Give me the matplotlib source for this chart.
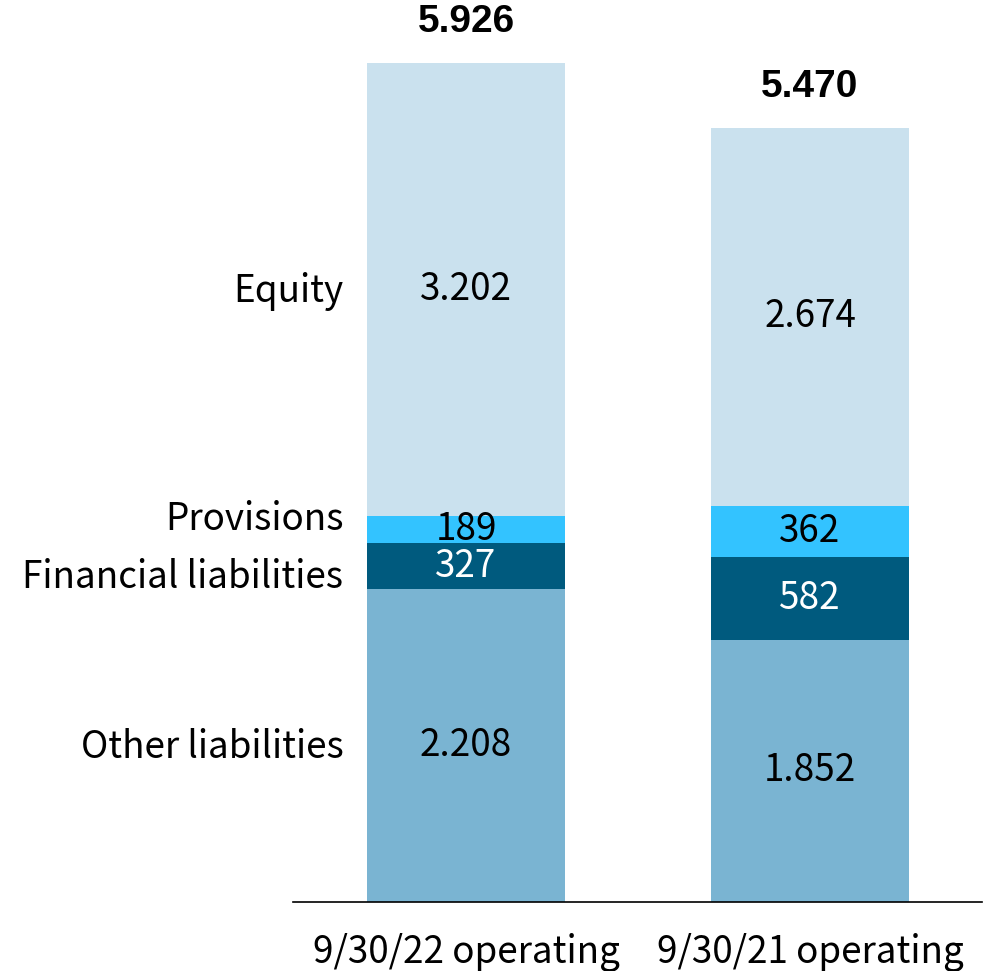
import matplotlib
matplotlib.use("Agg")
import matplotlib.pyplot as plt

categories = ["9/30/22 operating", "9/30/21 operating"]
series_names = ["Other liabilities", "Financial liabilities", "Provisions", "Equity"]
other = [2208, 1852]
financial = [327, 582]
provisions = [189, 362]
equity = [3202, 2674]
totals = ["5.926", "5.470"]
value_labels = {
    "Other liabilities": ["2.208", "1.852"],
    "Financial liabilities": ["327", "582"],
    "Provisions": ["189", "362"],
    "Equity": ["3.202", "2.674"],
}
colors = {
    "Other liabilities": "#7AB4D2",
    "Financial liabilities": "#005A7E",
    "Provisions": "#33C3FF",
    "Equity": "#CAE1EE",
}
text_colors = {
    "Other liabilities": "black",
    "Financial liabilities": "white",
    "Provisions": "black",
    "Equity": "black",
}
label_offsets = {  # offsets in points for the side labels
    "Other liabilities": -1,
    "Financial liabilities": -8,
    "Provisions": 7,
    "Equity": -1,
}

font = ["Noto Sans CJK JP", "DejaVu Sans"]
fs = 26.5

fig = plt.figure(figsize=(9.94, 9.71), dpi=100)
ax = fig.add_axes([293/994, 69/971, 689/994, 902/971])

x = [0, 1]
width = 0.5756
data = {"Other liabilities": other, "Financial liabilities": financial,
        "Provisions": provisions, "Equity": equity}
bottoms = [0, 0]
for name in series_names:
    vals = data[name]
    ax.bar(x, vals, width=width, bottom=bottoms, color=colors[name], linewidth=0)
    for i in range(2):
        ax.text(x[i], bottoms[i] + vals[i] / 2, value_labels[name][i],
                ha="center", va="center", fontsize=fs, color=text_colors[name],
                family=font)
    # side label aligned with first bar
    ax.annotate(name, xy=(x[0] - width / 2, bottoms[0] + vals[0] / 2),
                xytext=(-17, label_offsets[name]), textcoords="offset points",
                ha="right", va="center", fontsize=fs, family=font,
                annotation_clip=False)
    bottoms = [bottoms[i] + vals[i] for i in range(2)]

for i in range(2):
    ax.annotate(totals[i], xy=(x[i], bottoms[i]), xytext=(0, 29.5),
                textcoords="offset points", ha="center", va="center",
                fontsize=28, fontweight="bold", family=["Liberation Sans", "DejaVu Sans"],
                annotation_clip=False)

ax.set_xlim(-0.503, 1.5)
ax.set_ylim(0, 902 / 0.14158)
for s in ["top", "right", "left"]:
    ax.spines[s].set_visible(False)
ax.spines["bottom"].set_linewidth(1.2)
ax.set_yticks([])
ax.set_xticks(x)
ax.set_xticklabels(categories, fontsize=fs, family=font)
ax.tick_params(axis="x", length=0, pad=22)

fig.savefig("out.png", dpi=100)
